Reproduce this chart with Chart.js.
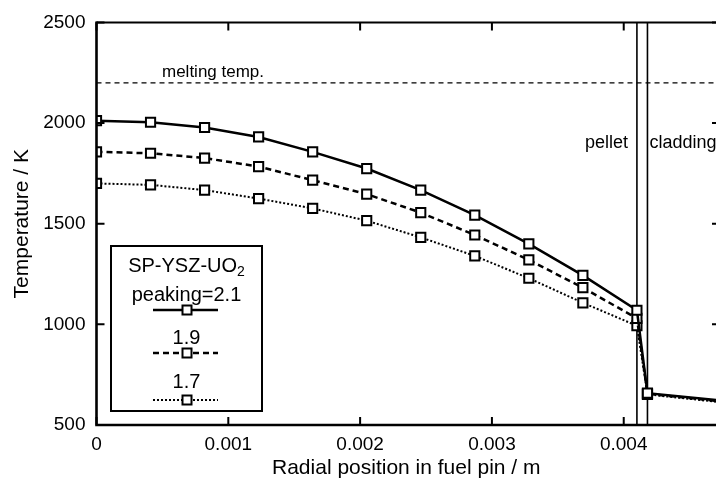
<!DOCTYPE html>
<html>
<head>
<meta charset="utf-8">
<script src="https://cdn.jsdelivr.net/npm/chart.js@4/dist/chart.umd.min.js"></script>
<style>
  body { margin: 0; background: #fff; }
  #wrap { width: 716px; height: 481px; }
</style>
</head>
<body>
<div id="wrap"><canvas id="grafico"></canvas></div>
<script>
// radial position (m) and temperatures (K)
var radius = [0, 0.00041, 0.00082, 0.00123, 0.00164, 0.00205, 0.00246, 0.00287, 0.00328, 0.00369, 0.0041, 0.00418, 0.0047];
var tempPeak21 = [2012, 2004, 1978, 1931, 1857, 1774, 1667, 1543, 1400, 1243, 1070, 658, 624];
var tempPeak19 = [1857, 1850, 1826, 1784, 1716, 1647, 1555, 1444, 1320, 1182, 1030, 655, 620];
var tempPeak17 = [1700, 1693, 1667, 1625, 1576, 1515, 1432, 1340, 1229, 1107, 993, 652, 616];

var xTicks = [0, 0.001, 0.002, 0.003, 0.004];
var yTicks = [500, 1000, 1500, 2000, 2500];

var meltingTemp = 2200;
var pelletSurface = 0.0041;
var claddingInner = 0.00418;

var fontFamily = "'Liberation Sans', Arial, Helvetica, sans-serif";

function toPoints(xs, ys) {
  var pts = [];
  for (var i = 0; i < xs.length; i++) {
    pts.push({ x: xs[i], y: ys[i] });
  }
  return pts;
}

function makeDataset(label, values, width, dash) {
  return {
    label: label,
    data: toPoints(radius, values),
    borderColor: '#000',
    borderWidth: width,
    borderDash: dash,
    backgroundColor: '#fff',
    pointStyle: 'rect',
    pointRadius: function(ctx) { return ctx.dataIndex === radius.length - 1 ? 0 : 6.5; },
    pointBorderWidth: 2,
    pointBorderColor: '#000',
    pointBackgroundColor: '#fff',
    tension: 0
  };
}

function drawLegendRow(ctx, y, width, dash) {
  ctx.save();
  ctx.strokeStyle = '#000';
  ctx.lineWidth = width;
  ctx.setLineDash(dash);
  ctx.beginPath();
  ctx.moveTo(153, y);
  ctx.lineTo(218, y);
  ctx.stroke();
  ctx.setLineDash([]);
  ctx.lineWidth = 2;
  ctx.fillStyle = '#fff';
  ctx.fillRect(182.5, y - 4.5, 9, 9);
  ctx.strokeRect(182.5, y - 4.5, 9, 9);
  ctx.restore();
}

// frame, inward ticks, boundary lines, labels and the boxed legend
var decorations = {
  id: 'decorations',
  beforeDatasetsDraw: function(chart) {
    var ctx = chart.ctx;
    var area = chart.chartArea;
    var sx = chart.scales.x;
    var sy = chart.scales.y;
    ctx.save();
    ctx.strokeStyle = '#000';

    // melting temperature
    ctx.lineWidth = 1.2;
    ctx.setLineDash([5, 4]);
    ctx.beginPath();
    ctx.moveTo(area.left, sy.getPixelForValue(meltingTemp));
    ctx.lineTo(area.right, sy.getPixelForValue(meltingTemp));
    ctx.stroke();
    ctx.setLineDash([]);

    // pellet / cladding boundaries
    ctx.lineWidth = 1.6;
    [pelletSurface, claddingInner].forEach(function(v) {
      var px = sx.getPixelForValue(v);
      ctx.beginPath();
      ctx.moveTo(px, area.top);
      ctx.lineTo(px, area.bottom);
      ctx.stroke();
    });

    ctx.fillStyle = '#000';
    ctx.font = '17px ' + fontFamily;
    ctx.textAlign = 'left';
    ctx.textBaseline = 'alphabetic';
    ctx.fillText('melting temp.', 162, 77);

    ctx.font = '18px ' + fontFamily;
    ctx.textAlign = 'right';
    ctx.fillText('pellet', sx.getPixelForValue(pelletSurface) - 9, 148);
    ctx.textAlign = 'left';
    ctx.fillText('cladding', sx.getPixelForValue(claddingInner) + 2, 148);
    ctx.restore();
  },
  afterDraw: function(chart) {
    var ctx = chart.ctx;
    var area = chart.chartArea;
    var sx = chart.scales.x;
    var sy = chart.scales.y;
    ctx.save();
    ctx.strokeStyle = '#000';
    ctx.lineCap = 'butt';

    // axes frame
    ctx.lineWidth = 2.6;
    ctx.beginPath();
    ctx.moveTo(area.left, area.top - 1);
    ctx.lineTo(area.left, area.bottom);
    ctx.lineTo(area.right, area.bottom);
    ctx.stroke();
    ctx.lineWidth = 2;
    ctx.beginPath();
    ctx.moveTo(area.left, area.top);
    ctx.lineTo(area.right, area.top);
    ctx.stroke();

    // inward ticks
    ctx.lineWidth = 2;
    yTicks.forEach(function(v) {
      var py = sy.getPixelForValue(v);
      ctx.beginPath();
      ctx.moveTo(area.left, py);
      ctx.lineTo(area.left + 8, py);
      ctx.moveTo(area.right, py);
      ctx.lineTo(area.right - 4, py);
      ctx.stroke();
    });
    xTicks.forEach(function(v) {
      var px = sx.getPixelForValue(v);
      ctx.beginPath();
      ctx.moveTo(px, area.bottom);
      ctx.lineTo(px, area.bottom - 8);
      ctx.moveTo(px, area.top);
      ctx.lineTo(px, area.top + 8);
      ctx.stroke();
    });

    // legend box
    ctx.fillStyle = '#fff';
    ctx.fillRect(111, 246, 151, 165);
    ctx.lineWidth = 2;
    ctx.strokeRect(111, 246, 151, 165);

    ctx.fillStyle = '#000';
    ctx.textBaseline = 'alphabetic';
    var main = 'SP-YSZ-UO';
    ctx.font = '20px ' + fontFamily;
    var wMain = ctx.measureText(main).width;
    ctx.font = '14px ' + fontFamily;
    var wSub = ctx.measureText('2').width;
    var startX = 186.5 - (wMain + wSub) / 2;
    ctx.font = '20px ' + fontFamily;
    ctx.textAlign = 'left';
    ctx.fillText(main, startX, 272);
    ctx.font = '14px ' + fontFamily;
    ctx.fillText('2', startX + wMain, 276);

    ctx.font = '20px ' + fontFamily;
    ctx.textAlign = 'center';
    ctx.fillText('peaking=2.1', 186.5, 301);
    drawLegendRow(ctx, 310, 2.5, []);
    ctx.fillText('1.9', 186.5, 344);
    drawLegendRow(ctx, 353, 2.5, [6, 4]);
    ctx.fillText('1.7', 186.5, 388);
    drawLegendRow(ctx, 400, 2, [2, 2]);

    ctx.restore();
  }
};

Chart.defaults.font.family = fontFamily;
Chart.defaults.color = '#000';

new Chart(document.getElementById('grafico'), {
  type: 'line',
  data: {
    datasets: [
      makeDataset('peaking=2.1', tempPeak21, 2.5, []),
      makeDataset('1.9', tempPeak19, 2.5, [6, 4]),
      makeDataset('1.7', tempPeak17, 2, [2, 2])
    ]
  },
  options: {
    responsive: true,
    maintainAspectRatio: false,
    devicePixelRatio: 1,
    animation: false,
    layout: {
      autoPadding: false,
      padding: { left: 10, top: 21, right: 0, bottom: 0 }
    },
    plugins: {
      legend: { display: false },
      tooltip: { enabled: false }
    },
    scales: {
      x: {
        type: 'linear',
        min: 0,
        max: 0.0047,
        grid: { display: false, drawTicks: false },
        border: { display: false },
        afterBuildTicks: function(scale) {
          scale.ticks = xTicks.map(function(v) { return { value: v }; });
        },
        afterFit: function(scale) {
          scale.height = 56;
          scale.paddingRight = 0;
        },
        ticks: {
          padding: 8,
          maxRotation: 0,
          font: { size: 19 },
          callback: function(value) { return String(value); }
        },
        title: {
          display: true,
          text: 'Radial position in fuel pin / m',
          font: { size: 21 },
          padding: 0
        }
      },
      y: {
        min: 500,
        max: 2500,
        grid: { display: false, drawTicks: false },
        border: { display: false },
        afterBuildTicks: function(scale) {
          scale.ticks = yTicks.map(function(v) { return { value: v }; });
        },
        afterFit: function(scale) { scale.width = 86.5; },
        ticks: {
          padding: 11,
          font: { size: 19 },
          callback: function(value) { return String(value); }
        },
        title: {
          display: true,
          text: 'Temperature / K',
          font: { size: 21 },
          padding: 0
        }
      }
    }
  },
  plugins: [decorations]
});
</script>
</body>
</html>
